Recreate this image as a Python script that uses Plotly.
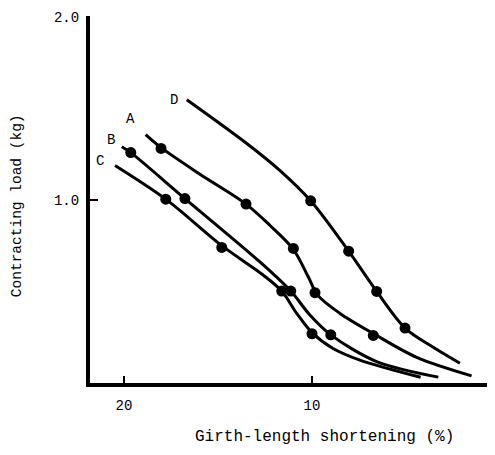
import plotly.graph_objects as go

# Measured points (x: girth-length shortening %, y: contracting load kg)
A_pts_x = [18.03, 13.51, 10.99, 9.84, 6.74]
A_pts_y = [1.281, 0.977, 0.735, 0.493, 0.26]
B_pts_x = [19.64, 16.76, 11.13, 9.0]
B_pts_y = [1.258, 1.007, 0.502, 0.263]
C_pts_x = [17.78, 14.8, 11.61, 10.0]
C_pts_y = [1.004, 0.74, 0.502, 0.269]
D_pts_x = [10.07, 8.05, 6.56, 5.05]
D_pts_y = [0.995, 0.72, 0.50, 0.30]

# Fitted curves, points
A_curve_x = [18.85, 18.03, 15.96, 13.51, 12.23, 10.99, 10.2, 9.7, 8.51, 6.74, 4.43, 1.51]
A_curve_y = [1.356, 1.285, 1.14, 0.977, 0.86, 0.73, 0.58, 0.48, 0.38, 0.27, 0.14, 0.039]
B_curve_x = [20.12, 19.64, 16.76, 12.77, 11.13, 10.1, 9.0, 6.56, 3.28]
B_curve_y = [1.29, 1.258, 1.007, 0.661, 0.502, 0.37, 0.263, 0.117, 0.032]
C_curve_x = [20.48, 17.78, 14.8, 12.6, 11.61, 10.81, 10.0, 8.9, 7.45, 4.22]
C_curve_y = [1.188, 1.004, 0.75, 0.59, 0.502, 0.38, 0.275, 0.19, 0.125, 0.031]
D_curve_x = [16.66, 13.47, 11.70, 10.07, 8.05, 6.56, 5.05, 3.55, 2.13]
D_curve_y = [1.547, 1.308, 1.16, 0.995, 0.72, 0.50, 0.30, 0.195, 0.108]

curve_names = ["A", "B", "C", "D"]
label_x = [19.68, 20.69, 21.28, 17.34]
label_y = [1.441, 1.328, 1.21, 1.543]

x_ticks = [20, 10]
x_tick_text = ["20", "10"]
y_ticks = [1.0, 2.0]
y_tick_text = ["1.0", "2.0"]

FONT = "Liberation Mono, Courier New, monospace"

fig = go.Figure()
curves = [(A_curve_x, A_curve_y), (B_curve_x, B_curve_y), (C_curve_x, C_curve_y), (D_curve_x, D_curve_y)]
pts = [(A_pts_x, A_pts_y), (B_pts_x, B_pts_y), (C_pts_x, C_pts_y), (D_pts_x, D_pts_y)]
for (cx, cy) in curves:
    fig.add_trace(go.Scatter(x=cx, y=cy, mode="lines",
                             line=dict(color="black", width=3, shape="spline", smoothing=0.9),
                             showlegend=False, hoverinfo="skip"))
for (px, py) in pts:
    fig.add_trace(go.Scatter(x=px, y=py, mode="markers",
                             marker=dict(color="black", size=11),
                             showlegend=False))

for name, lx, ly in zip(curve_names, label_x, label_y):
    fig.add_annotation(x=lx, y=ly, text=name, showarrow=False,
                       font=dict(family=FONT, size=14, color="black"))

fig.add_annotation(xref="paper", yref="paper", x=0.583, y=-0.146,
                   text="Girth-length shortening (%)", showarrow=False,
                   xanchor="center", yanchor="middle",
                   font=dict(family=FONT, size=16, color="black"))
fig.add_annotation(xref="paper", yref="paper", x=-0.181, y=0.482,
                   text="Contracting load (kg)", showarrow=False, textangle=-90,
                   xanchor="center", yanchor="middle",
                   font=dict(family=FONT, size=14.5, color="black"))

fig.update_layout(
    width=487, height=439,
    margin=dict(l=82, r=2, t=5, b=64),
    plot_bgcolor="white", paper_bgcolor="white",
    font=dict(family=FONT, size=14, color="black"),
    xaxis=dict(range=[21.81, 0.37], showgrid=False, zeroline=False,
               showline=True, linecolor="black", linewidth=4,
               ticks="inside", ticklen=7, tickwidth=2, tickcolor="black",
               tickvals=x_ticks, ticktext=x_tick_text, ticklabelstandoff=6),
    yaxis=dict(range=[0, 2.004], showgrid=False, zeroline=False,
               showline=True, linecolor="black", linewidth=4,
               ticks="inside", ticklen=8, tickwidth=2, tickcolor="black",
               tickvals=y_ticks, ticktext=y_tick_text, ticklabelstandoff=4,
               ticklabeloverflow="allow"),
)

fig.write_html("out.html")
